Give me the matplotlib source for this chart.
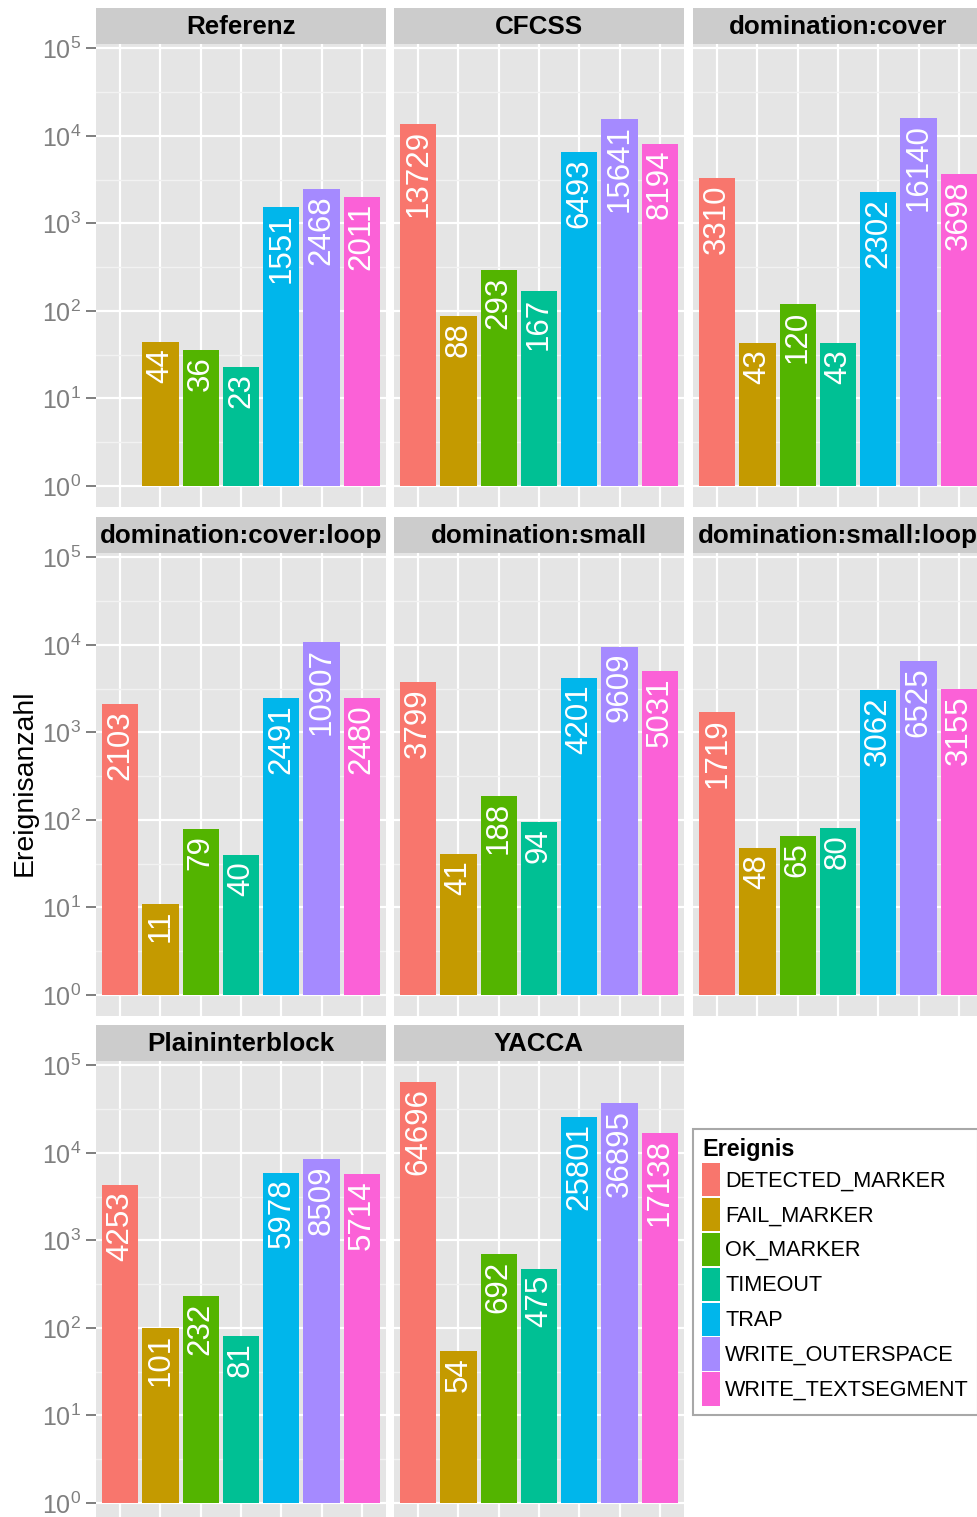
import numpy as np
import matplotlib
matplotlib.use("Agg")
import matplotlib.pyplot as plt
from matplotlib.patches import Patch
from matplotlib.ticker import FixedLocator, FuncFormatter

plt.rcParams["font.family"] = ["Liberation Sans", "DejaVu Sans"]
plt.rcParams["mathtext.default"] = "regular"

# Event types (fill order) and their hue colours
events = ["DETECTED_MARKER", "FAIL_MARKER", "OK_MARKER", "TIMEOUT",
          "TRAP", "WRITE_OUTERSPACE", "WRITE_TEXTSEGMENT"]
event_colors = ["#F8766D", "#C49A00", "#53B400", "#00C094",
                "#00B6EB", "#A58AFF", "#FB61D7"]

# Facets (row-major order)
variants = ["Referenz", "CFCSS", "domination:cover",
            "domination:cover:loop", "domination:small", "domination:small:loop",
            "Plaininterblock", "YACCA"]

# Event counts per variant; None = event not observed
referenz = [None, 44, 36, 23, 1551, 2468, 2011]
cfcss = [13729, 88, 293, 167, 6493, 15641, 8194]
dom_cover = [3310, 43, 120, 43, 2302, 16140, 3698]
dom_cover_loop = [2103, 11, 79, 40, 2491, 10907, 2480]
dom_small = [3799, 41, 188, 94, 4201, 9609, 5031]
dom_small_loop = [1719, 48, 65, 80, 3062, 6525, 3155]
plaininterblock = [4253, 101, 232, 81, 5978, 8509, 5714]
yacca = [64696, 54, 692, 475, 25801, 36895, 17138]

counts = [referenz, cfcss, dom_cover, dom_cover_loop, dom_small,
          dom_small_loop, plaininterblock, yacca]

y_label = "Ereignisanzahl"
legend_title = "Ereignis"

# ---------------------------------------------------------------- layout
W, H = 977, 1517
fig = plt.figure(figsize=(W / 100, H / 100), dpi=100)


def rect(x0, y0, x1, y1):
    return [x0 / W, 1 - y1 / H, (x1 - x0) / W, (y1 - y0) / H]


col_x = [96, 394, 693]
row_y = [44, 553, 1061]
panel_w, panel_h, strip_h = 290, 463, 36

# shared log scale, expanded 5 % around [1, max]
all_vals = [v for c in counts for v in c if v]
lo, hi = 0.0, np.log10(max(all_vals))
pad = 0.05 * (hi - lo)
ylim = (10 ** (lo - pad), 10 ** (hi + pad))

major = [10.0 ** k for k in range(0, 6)]
minor = [10.0 ** (k + 0.5) for k in range(-1, 5)]
grey50 = "#7F7F7F"

for i, (name, vals) in enumerate(zip(variants, counts)):
    r, c = divmod(i, 3)
    x0, y0 = col_x[c], row_y[r]
    ax = fig.add_axes(rect(x0, y0, x0 + panel_w, y0 + panel_h))
    ax.set_facecolor("#E5E5E5")
    for s in ax.spines.values():
        s.set_visible(False)
    ax.set_yscale("log")
    ax.set_ylim(*ylim)
    ax.set_xlim(-0.6, len(events) - 0.4)
    ax.yaxis.set_major_locator(FixedLocator(major))
    ax.yaxis.set_minor_locator(FixedLocator(minor))
    ax.set_xticks(range(len(events)))
    ax.set_axisbelow(True)
    ax.grid(which="major", color="white", linewidth=1.6)
    ax.grid(which="minor", axis="y", color="#F2F2F2", linewidth=1.0)
    ax.tick_params(axis="x", length=0, labelbottom=False)
    ax.tick_params(axis="y", which="minor", length=0)
    if c == 0:
        ax.tick_params(axis="y", which="major", length=7.5, width=1.4,
                       color=grey50, labelcolor=grey50, labelsize=18, pad=3)
        ax.yaxis.set_major_formatter(
            FuncFormatter(lambda v, p: r"$10^{%d}$" % round(np.log10(v))))
    else:
        ax.tick_params(axis="y", which="major", length=0, labelleft=False)

    xs = [j for j, v in enumerate(vals) if v]
    vs = [v for v in vals if v]
    cols = [event_colors[j] for j in xs]
    ax.bar(xs, [v - 1 for v in vs], bottom=1, width=0.9, color=cols,
           linewidth=0)
    for xj, v in zip(xs, vs):
        ax.annotate(str(v), (xj, v), xytext=(0, -4.5),
                    textcoords="offset points", rotation=90,
                    ha="center", va="top", color="white", fontsize=22.5)

    sax = fig.add_axes(rect(x0, y0 - strip_h, x0 + panel_w, y0))
    sax.set_facecolor("#CCCCCC")
    sax.set_xticks([])
    sax.set_yticks([])
    for s in sax.spines.values():
        s.set_visible(False)
    sax.text(0.5, 0.48, name, transform=sax.transAxes, ha="center",
             va="center", fontsize=18.7, fontweight="bold", clip_on=False)

fig.text(25 / W, 1 - 783 / H, y_label, rotation=90, ha="center",
         va="center", fontsize=20.5)

handles = [Patch(facecolor=col, edgecolor="none") for col in event_colors]
fs = 15.6
leg = fig.legend(handles, events, title=legend_title,
                 loc="upper left", bbox_to_anchor=(693 / W, 1 - 1129 / H),
                 borderaxespad=0, fontsize=fs, title_fontsize=16.8,
                 handlelength=0.82, handleheight=1.98, labelspacing=0.08,
                 handletextpad=0.25, borderpad=0.42, fancybox=False,
                 frameon=True, framealpha=1, edgecolor="#A8A8A8",
                 alignment="left")
leg.get_title().set_fontweight("bold")
leg.get_frame().set_linewidth(1.5)

fig.savefig("out.png", dpi=100)
